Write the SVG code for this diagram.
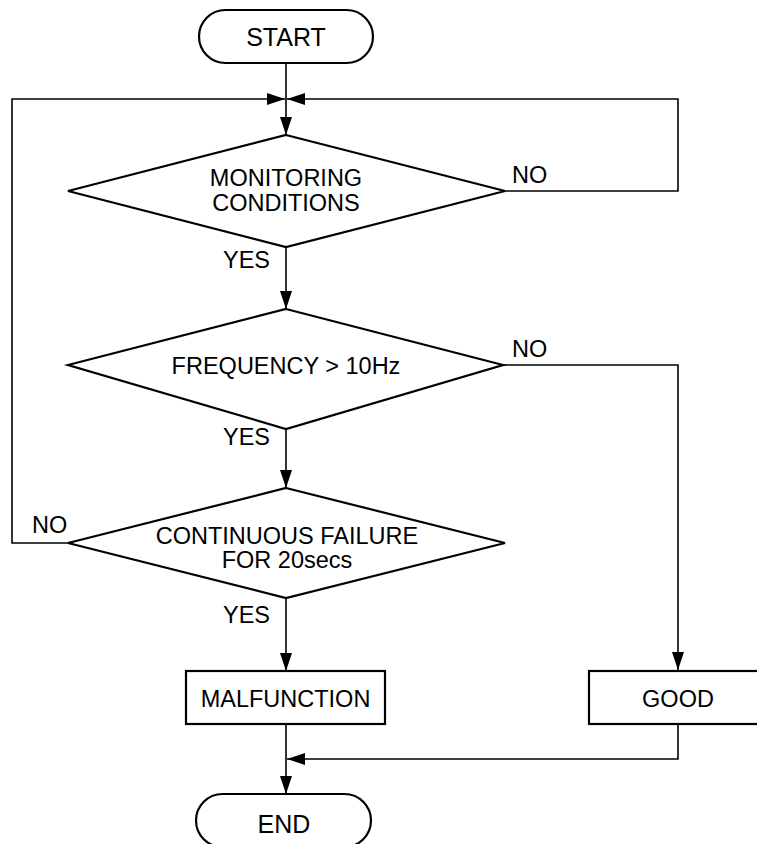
<svg xmlns="http://www.w3.org/2000/svg" width="757" height="844" viewBox="0 0 757 844">
<defs>
<marker id="arr" markerUnits="userSpaceOnUse" markerWidth="18" markerHeight="12" refX="18" refY="6" orient="auto">
<path d="M0,0 L18,6 L0,12 z" fill="#000"/>
</marker>
<style>
.shape{fill:#fff;stroke:#000;stroke-width:2.2}
.conn{fill:none;stroke:#000;stroke-width:1.6;marker-end:url(#arr)}
text{font-family:"Liberation Sans",Arial,sans-serif;font-size:23.5px;fill:#000}
.c{text-anchor:middle}
.t{font-size:25px}
</style>
</defs>
<rect width="757" height="844" fill="#fff"/>
<g id="connectors">
<path class="conn" d="M286,63 V135"/>
<path class="conn" d="M505,191 H678 V99 H287"/>
<path class="conn" d="M68,543 H12 V99 H285"/>
<path class="conn" d="M286,247 V309"/>
<path class="conn" d="M286,429 V488"/>
<path class="conn" d="M503,365 H678 V670"/>
<path class="conn" d="M286,598 V671"/>
<path class="conn" d="M286,724 V794"/>
<path class="conn" d="M678,724 V759 H287"/>
</g>
<g id="start">
<rect class="shape" x="199" y="10" width="174" height="53" rx="26.5"/>
<text class="c t" x="286" y="46">START</text>
</g>
<g id="monitoring">
<polygon class="shape" points="286,135 505,191 286,247 68,191"/>
<text class="c" x="286" y="186">MONITORING</text>
<text class="c" x="286" y="211">CONDITIONS</text>
</g>
<g id="frequency">
<polygon class="shape" points="286,309 503,365 286,429 68,365"/>
<text class="c" x="286" y="374">FREQUENCY &gt; 10Hz</text>
</g>
<g id="continuous">
<polygon class="shape" points="286,488 505,543 286,598 68,543"/>
<text class="c" x="287" y="544">CONTINUOUS FAILURE</text>
<text class="c" x="287" y="568">FOR 20secs</text>
</g>
<g id="malfunction">
<rect class="shape" x="186" y="671" width="199" height="53"/>
<text class="c" x="285.5" y="707">MALFUNCTION</text>
</g>
<g id="good">
<rect class="shape" x="589" y="671" width="178" height="53"/>
<text class="c" x="678" y="707">GOOD</text>
</g>
<g id="end">
<rect class="shape" x="196" y="794" width="175" height="53" rx="26.5"/>
<text class="c t" x="284" y="833">END</text>
</g>
<g id="labels">
<text x="512" y="183">NO</text>
<text x="223" y="268">YES</text>
<text x="512" y="357">NO</text>
<text x="223" y="445">YES</text>
<text x="32" y="533">NO</text>
<text x="223" y="623">YES</text>
</g>
</svg>
